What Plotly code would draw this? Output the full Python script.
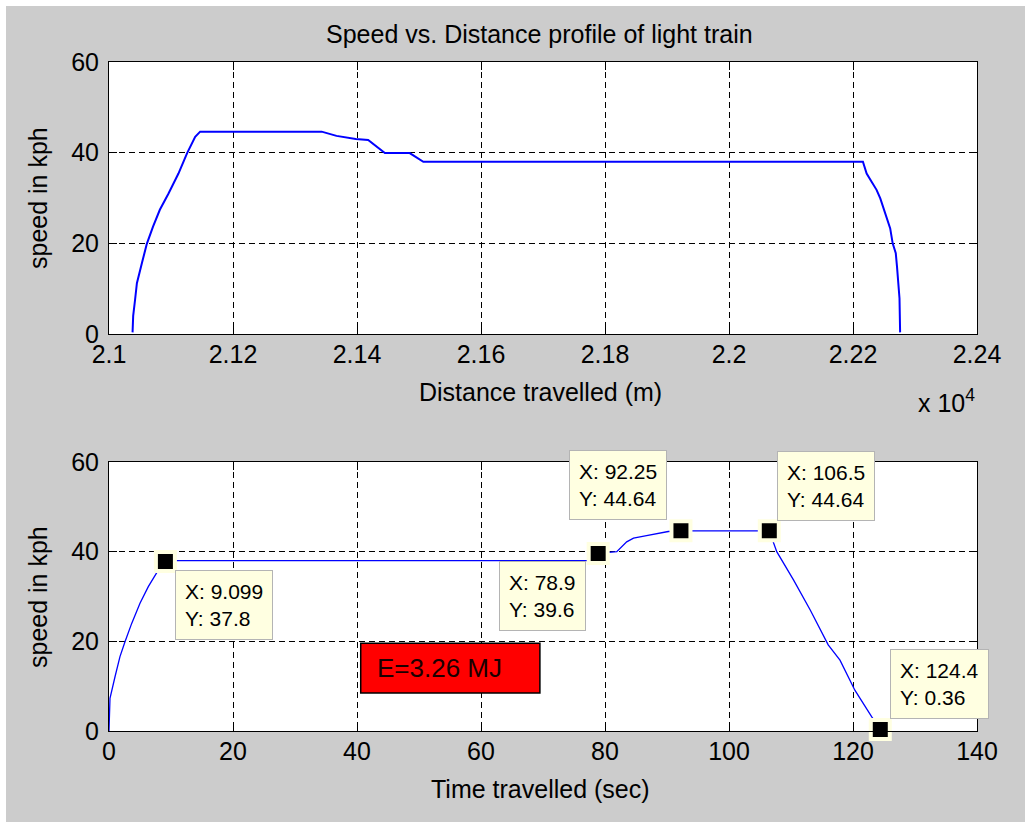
import plotly.graph_objects as go

# --- Speed vs distance (top panel) ---
distance_m = [21038, 21039, 21042, 21045, 21053, 21061, 21071, 21082, 21096, 21112,
              21126, 21139, 21147, 21343, 21367, 21386, 21398, 21418, 21445, 21485,
              21507, 22216, 22222, 22230, 22238, 22244, 22249, 22254, 22260, 22264,
              22269, 22271, 22275, 22276]
speed_dist = [0.36, 4.0, 7.5, 11.2, 15.6, 19.9, 23.7, 27.4, 31.0, 35.4,
              39.9, 43.5, 44.64, 44.64, 43.7, 43.2, 43.0, 42.8, 39.9, 39.9,
              38.0, 38.0, 35.4, 33.6, 31.8, 29.9, 27.7, 25.5, 23.3, 20.0,
              17.8, 14.8, 7.9, 0.36]

# --- Speed vs time (bottom panel) ---
time_s = [0, 0.05, 0.16, 0.97, 1.77, 2.58, 3.66, 5.0, 6.34, 7.95, 9.099, 10.0,
          77.5, 78.9, 80.8, 81.9, 83.5, 84.6, 86.7, 88.9, 90.2, 92.25, 106.5,
          107.7, 110.4, 113.1, 116.0, 117.9, 120.3, 123.0, 124.4]
speed_time = [0, 4.0, 7.3, 12.1, 16.6, 19.9, 24.0, 28.5, 32.2, 35.9, 37.8, 38.0,
              38.0, 39.6, 39.8, 40.0, 42.2, 43.0, 43.6, 44.1, 44.5, 44.64, 44.64,
              40.0, 33.7, 27.0, 19.2, 15.8, 9.1, 3.2, 0.36]

# Data cursors on the time profile
tip_x_text = ["9.099", "78.9", "92.25", "106.5", "124.4"]
tip_y_text = ["37.8", "39.6", "44.64", "44.64", "0.36"]
tip_anchor = [("left", "top", 10, -8), ("right", "top", -12, -8),
              ("right", "bottom", -14, 11), ("left", "bottom", 8, 10),
              ("left", "bottom", 10, 10)]

energy_label = "E=3.26 MJ"

dist_ticks = [21000, 21200, 21400, 21600, 21800, 22000, 22200, 22400]
dist_tick_text = ["2.1", "2.12", "2.14", "2.16", "2.18", "2.2", "2.22", "2.24"]
time_ticks = [0, 20, 40, 60, 80, 100, 120, 140]
speed_ticks = [0, 20, 40, 60]

W, H = 1025, 822
FONT = "Liberation Sans, Arial, sans-serif"
BG = "#cccccc"


def px_x(p):
    return p / W


def px_y(p):
    return 1 - p / H


fig = go.Figure()

fig.add_trace(go.Scatter(x=distance_m, y=speed_dist, mode="lines",
                         line=dict(color="#0000ff", width=2),
                         xaxis="x", yaxis="y", showlegend=False))
fig.add_trace(go.Scatter(x=time_s, y=speed_time, mode="lines",
                         line=dict(color="#0000ff", width=1.3),
                         xaxis="x2", yaxis="y2", showlegend=False))

tip_x = [float(s) for s in tip_x_text]
tip_y = [float(s) for s in tip_y_text]
fig.add_trace(go.Scatter(x=tip_x, y=tip_y, mode="markers",
                         marker=dict(symbol="square", size=19, color="black",
                                     line=dict(color="#ffffe1", width=4)),
                         xaxis="x2", yaxis="y2", showlegend=False,
                         cliponaxis=False))

axis_common = dict(
    showline=True, linecolor="black", linewidth=1, mirror="ticks",
    ticks="inside", ticklen=8, tickcolor="black", tickwidth=1,
    showgrid=True, gridcolor="black", gridwidth=1, griddash="6px,4px",
    zeroline=False, tickfont=dict(family=FONT, size=25, color="black"),
    automargin=False,
)

xdom = [px_x(109), px_x(977)]
fig.update_layout(
    template="none",
    width=W, height=H,
    margin=dict(l=0, r=0, t=0, b=0, pad=0, autoexpand=False),
    paper_bgcolor=BG, plot_bgcolor="white",
    font=dict(family=FONT, size=25, color="black"),
    xaxis=dict(domain=xdom, anchor="y", range=[21000, 22400],
               tickvals=dist_ticks, ticktext=dist_tick_text,
               ticklabelstandoff=-2, **axis_common),
    yaxis=dict(domain=[px_y(334), px_y(62)], anchor="x", range=[0, 60],
               tickvals=speed_ticks, ticklabelstandoff=4, **axis_common),
    xaxis2=dict(domain=xdom, anchor="y2", range=[0, 140],
                tickvals=time_ticks, ticklabelstandoff=-2, **axis_common),
    yaxis2=dict(domain=[px_y(731), px_y(462)], anchor="x2", range=[0, 60],
                tickvals=speed_ticks, ticklabelstandoff=4, **axis_common),
)

annotations = [
    dict(text="Speed vs. Distance profile of light train", xref="paper", yref="paper",
         x=px_x(539), y=px_y(34), xanchor="center", yanchor="middle",
         showarrow=False, font=dict(size=25)),
    dict(text="speed in kph", xref="paper", yref="paper", x=px_x(38), y=px_y(198),
         textangle=-90, xanchor="center", yanchor="middle", showarrow=False,
         font=dict(size=25)),
    dict(text="speed in kph", xref="paper", yref="paper", x=px_x(38), y=px_y(597),
         textangle=-90, xanchor="center", yanchor="middle", showarrow=False,
         font=dict(size=25)),
    dict(text="Distance travelled (m)", xref="paper", yref="paper",
         x=px_x(540), y=px_y(392), xanchor="center", yanchor="middle",
         showarrow=False, font=dict(size=25)),
    dict(text="x 10<sup>4</sup>", xref="paper", yref="paper",
         x=px_x(916), y=px_y(401), xanchor="left", yanchor="middle",
         showarrow=False, font=dict(size=25)),
    dict(text="Time travelled (sec)", xref="paper", yref="paper",
         x=px_x(540), y=px_y(789), xanchor="center", yanchor="middle",
         showarrow=False, font=dict(size=25)),
]

for xs, ys, xv, yv, (xa, ya, dx, dy) in zip(tip_x_text, tip_y_text, tip_x, tip_y, tip_anchor):
    annotations.append(dict(
        text=f"X: {xs}<br>Y: {ys}", xref="x2", yref="y2", x=xv, y=yv,
        xanchor=xa, yanchor=ya, xshift=dx, yshift=dy, align="left",
        showarrow=False, bgcolor="#ffffe1", bordercolor="#b4b4b4", borderwidth=1,
        borderpad=9, font=dict(size=21, color="black")))

# Energy readout box
fig.add_shape(type="rect", xref="x2", yref="y2", x0=40.6, x1=69.5, y0=8.5, y1=19.6,
              fillcolor="#ff0000", line=dict(color="black", width=1.5), layer="above")
annotations.append(dict(text=energy_label, xref="x2", yref="y2", x=42.9, y=14.1,
                        xanchor="left", yanchor="middle", showarrow=False,
                        font=dict(size=26, color="#1a0000")))

fig.update_layout(annotations=annotations)

# thin white frame along the top and left edges of the window
fig.add_shape(type="rect", xref="paper", yref="paper", x0=0, x1=px_x(6), y0=0, y1=1,
              fillcolor="white", line=dict(width=0), layer="below")
fig.add_shape(type="rect", xref="paper", yref="paper", x0=0, x1=1, y0=px_y(6), y1=1,
              fillcolor="white", line=dict(width=0), layer="below")

fig.write_html("out.html")
